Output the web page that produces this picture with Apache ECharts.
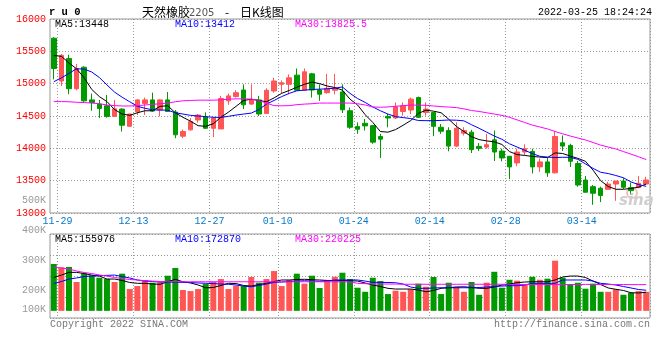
<!DOCTYPE html>
<html><head><meta charset="utf-8">
<script src="https://cdn.jsdelivr.net/npm/echarts@6/dist/echarts.min.js"></script>
<style>html,body{margin:0;padding:0;background:#fff}#c{width:660px;height:360px}</style>
</head><body><div id="c"></div><script>
const dates = ['11-29','11-30','12-01','12-02','12-03','12-06','12-07','12-08','12-09','12-10',
'12-13','12-14','12-15','12-16','12-17','12-20','12-21','12-22','12-23','12-24',
'12-27','12-28','12-29','12-30','12-31','01-04','01-05','01-06','01-07',
'01-10','01-11','01-12','01-13','01-14','01-17','01-18','01-19','01-20','01-21',
'01-24','01-25','01-26','01-27','01-28','02-07','02-08','02-09','02-10','02-11',
'02-14','02-15','02-16','02-17','02-18','02-21','02-22','02-23','02-24','02-25',
'02-28','03-01','03-02','03-03','03-04','03-07','03-08','03-09','03-10','03-11',
'03-14','03-15','03-16','03-17','03-18','03-21','03-22','03-23','03-24','03-25'];
const labeledDates = ['11-29','12-13','12-27','01-10','01-24','02-14','02-28','03-14'];

const opens = [15703,15041,15388,14922,15254,14749,14684,14658,14494,14607,14341,14566,14693,14749,14592,14749,14561,14188,14286,14439,14489,14310,14300,14734,14800,14902,14684,14749,14540,14887,14990,14990,15132,14898,15152,14902,14861,14898,14872,14581,14336,14387,14351,14183,14494,14469,14570,14592,14785,14555,14555,14326,14275,14035,14234,14250,14030,14019,14132,13958,13877,13775,13943,13953,13713,13790,13621,14086,14045,13765,13510,13407,13383,13367,13448,13494,13392,13392,13448];
const closes = [15235,15438,14922,15235,14734,14708,14616,14494,14611,14357,14531,14749,14749,14576,14749,14570,14209,14260,14413,14515,14310,14469,14770,14811,14861,14673,14749,14531,14898,15041,15014,15091,14898,15183,14902,14837,14929,14929,14596,14326,14295,14347,14096,14142,14469,14642,14658,14760,14479,14607,14341,14264,14035,14310,14275,13980,14000,14056,13943,13851,13713,13943,13995,13713,13790,13621,14183,14035,13800,13433,13321,13306,13270,13448,13494,13398,13346,13459,13510];
const highs = [15718,15458,15449,15305,15270,14847,14749,14826,14749,14620,14535,14760,14785,14861,14760,14872,14592,14290,14469,14531,14556,14480,14811,14846,14898,14989,14989,14811,14929,15091,15051,15143,15235,15235,15167,14990,15152,15152,14990,14632,14402,14454,14362,14224,14530,14709,14709,14785,14800,14709,14555,14377,14326,14402,14326,14286,14081,14224,14275,13995,13877,13995,14061,13995,13842,13851,14264,14198,14071,13805,13571,13433,13407,13484,13494,13540,13469,13571,13560];
const lows = [15066,14964,14837,14898,14719,14581,14469,14474,14494,14260,14341,14515,14515,14566,14494,14570,14157,14157,14275,14397,14300,14173,14300,14673,14785,14607,14673,14500,14540,14861,14852,14837,14898,14887,14785,14734,14846,14837,14546,14300,14224,14275,14071,13851,14326,14454,14505,14531,14469,14505,14188,14224,13954,14019,14198,13928,13958,13995,13805,13800,13525,13724,13892,13612,13637,13560,13612,13958,13713,13407,13321,13127,13168,13367,13188,13372,13280,13392,13448];

const ma5 = [15435,15423,15320,15230,15090,14910,14800,14723,14600,14530,14510,14550,14581,14581,14650,14658,14550,14480,14420,14350,14340,14380,14480,14560,14650,14740,14760,14740,14720,14780,14850,14895,14945,14990,15025,15000,14964,14940,14900,14760,14670,14520,14400,14260,14250,14290,14357,14430,14540,14590,14575,14550,14450,14340,14260,14180,14135,14115,14100,14060,13950,13903,13890,13875,13865,13857,13930,13920,13880,13845,13800,13663,13500,13410,13367,13367,13380,13400,13448];
const ma10 = [15030,15090,15160,15230,15225,15180,15095,14980,14870,14790,14720,14650,14620,14595,14592,14590,14550,14530,14510,14500,14490,14480,14478,14495,14515,14530,14545,14600,14684,14740,14800,14850,14890,14900,14910,14915,14920,14930,14949,14850,14770,14710,14640,14581,14530,14490,14475,14460,14430,14428,14428,14432,14438,14435,14425,14365,14310,14250,14190,14140,14070,14020,13970,13920,13877,13865,13857,13862,13860,13830,13760,13690,13630,13610,13580,13545,13480,13440,13412];
const ma30 = [14723,14723,14720,14712,14708,14700,14690,14670,14660,14655,14655,14660,14670,14680,14690,14700,14720,14735,14740,14745,14745,14745,14750,14760,14765,14765,14760,14740,14700,14660,14658,14660,14675,14684,14690,14700,14700,14700,14700,14700,14690,14670,14640,14635,14640,14650,14660,14668,14668,14665,14655,14645,14638,14630,14610,14585,14570,14550,14530,14510,14480,14440,14400,14360,14330,14300,14260,14225,14190,14160,14130,14090,14050,14020,13990,13950,13910,13870,13826];

// volume in thousands
const volumes = [393,365,368,242,315,298,278,267,242,312,183,208,259,236,239,295,360,175,166,183,225,244,267,183,211,208,284,236,267,334,208,259,312,228,295,192,259,286,320,267,194,160,278,250,141,169,160,181,228,202,284,141,236,202,160,242,135,236,328,194,261,253,225,286,261,270,421,278,225,236,186,228,160,160,181,135,152,166,160];
const volMa5 = [280,300,323,323,313,300,292,267,267,255,238,231,231,225,223,244,265,244,234,217,194,196,213,231,229,213,208,221,231,246,259,259,263,265,261,259,255,253,253,253,250,234,217,204,189,183,183,183,175,160,171,189,194,200,202,196,189,189,200,217,225,236,242,244,244,244,259,284,292,292,280,250,221,192,181,171,152,150,156];
const volMa10 = [229,246,267,276,288,292,295,298,300,288,276,259,250,246,242,242,239,239,238,234,231,229,225,223,217,208,202,213,225,239,242,246,250,253,250,248,250,259,259,259,259,250,239,239,238,236,225,200,189,189,192,194,194,194,194,194,196,200,204,208,211,211,217,231,231,231,231,259,259,259,259,250,231,225,217,204,192,179,173];
const volMa30 = [364,360,351,334,322,313,301,292,280,271,263,259,253,250,246,244,244,244,244,244,244,244,244,244,244,244,244,244,244,244,244,244,244,244,244,244,244,244,244,242,231,228,225,225,225,225,223,223,223,223,223,223,223,223,223,223,223,223,223,223,223,221,221,221,221,221,221,221,221,221,222,222,221,221,221,221,220,220,220];

const priceMin = 13000, priceMax = 16000, priceStep = 500;
const volLabelValues = [100000, 200000, 300000, 400000, 500000];

const UP = '#ff5555', DOWN = '#009900';
const MONO = '"Liberation Mono", "DejaVu Sans Mono", monospace';
const GRIDC = '#999';
const DOT = [1, 2];

const candleData = dates.map((d, i) => [opens[i], closes[i], lows[i], highs[i]]);
const volData = volumes.map((v, i) => ({ value: v * 1000, itemStyle: { color: closes[i] >= opens[i] ? UP : DOWN } }));
const k = a => a.map(v => v * 1000);
const isLabeled = (i, v) => labeledDates.indexOf(v) >= 0;
const splitAt = (i) => i > 0 && i <= dates.length && labeledDates.indexOf(dates[i - 1]) >= 0;

const chart = echarts.init(document.getElementById('c'), null, { renderer: 'canvas', width: 660, height: 360 });
const line = (name, data, color, xi, yi) => ({
  name, type: 'line', data, xAxisIndex: xi, yAxisIndex: yi, symbol: 'none', smooth: false,
  lineStyle: { color, width: 1 }, itemStyle: { color }, z: 4, silent: true
});
const T = (x, y, text, fill, font, align) => ({
  type: 'text', x, y, silent: true, z: 10,
  style: { text, fill, font, align: align || 'left', verticalAlign: 'middle' }
});

chart.setOption({
  animation: false,
  backgroundColor: '#fff',
  grid: [
    { left: 50, top: 19, width: 600, height: 194, show: true, borderColor: GRIDC, borderWidth: 1, outerBoundsMode: 'none' },
    { left: 50, top: 234, width: 600, height: 84, show: true, borderColor: GRIDC, borderWidth: 1, outerBoundsMode: 'none' },
    { left: 50, top: 200.7, width: 600, height: 120, show: false, outerBoundsMode: 'none' }
  ],
  xAxis: [
    { type: 'category', gridIndex: 0, data: dates, boundaryGap: true,
      axisLine: { show: false }, axisTick: { show: false },
      axisLabel: { interval: isLabeled, color: '#0a78c8', fontFamily: MONO, fontSize: 10, margin: 3, padding: [0, 0, 0, 7.6] },
      splitLine: { show: true, interval: splitAt, lineStyle: { color: GRIDC, type: DOT, width: 1 } } },
    { type: 'category', gridIndex: 1, data: dates, boundaryGap: true,
      axisLine: { show: false }, axisTick: { show: false }, axisLabel: { show: false },
      splitLine: { show: true, interval: splitAt, lineStyle: { color: GRIDC, type: DOT, width: 1 } } },
    { type: 'category', gridIndex: 2, data: dates, show: false }
  ],
  yAxis: [
    { type: 'value', gridIndex: 0, min: priceMin, max: priceMax, interval: priceStep, scale: true,
      axisLine: { show: false }, axisTick: { show: false },
      axisLabel: { color: '#ff0000', fontFamily: MONO, fontSize: 10, margin: 4, padding: [0, 0, 4, 0], formatter: v => String(v) },
      splitLine: { show: true, lineStyle: { color: GRIDC, type: DOT, width: 1 } } },
    { type: 'value', gridIndex: 1, min: -60000, max: 645000,
      axisLine: { show: false }, axisTick: { show: false }, axisLabel: { show: false }, splitLine: { show: false } },
    { type: 'value', gridIndex: 1, min: 0, max: 4, interval: 1,
      axisLine: { show: false }, axisTick: { show: false }, axisLabel: { show: false },
      splitLine: { show: true, lineStyle: { color: GRIDC, type: DOT, width: 1 } } },
    { type: 'value', gridIndex: 2, min: volLabelValues[0], max: volLabelValues[volLabelValues.length - 1], interval: 100000,
      axisLine: { show: false }, axisTick: { show: false }, splitLine: { show: false },
      axisLabel: { color: '#999', fontFamily: MONO, fontSize: 10, margin: 4,
        formatter: v => v === volLabelValues[0] ? '{up|' + (v / 1000) + 'K}' : (v / 1000) + 'K',
        rich: { up: { color: '#999', fontFamily: MONO, fontSize: 10, padding: [0, 0, 23, 0] } } } }
  ],
  series: [
    { type: 'candlestick', name: 'K', xAxisIndex: 0, yAxisIndex: 0, data: candleData, barWidth: 5, z: 3,
      itemStyle: { color: UP, color0: DOWN, borderColor: UP, borderColor0: DOWN, borderWidth: 1 } },
    line('MA5', ma5, '#000000', 0, 0),
    line('MA10', ma10, '#0000ff', 0, 0),
    line('MA30', ma30, '#ff00ff', 0, 0),
    { type: 'bar', name: 'VOL', xAxisIndex: 1, yAxisIndex: 1, data: volData, barWidth: 6, z: 3 },
    line('VMA5', k(volMa5), '#000000', 1, 1),
    line('VMA10', k(volMa10), '#0000ff', 1, 1),
    line('VMA30', k(volMa30), '#ff00ff', 1, 1)
  ],
  graphic: [
    T(49, 12, 'r u 0', '#000', 'bold 10.5px ' + MONO),
    T(142, 12, '天然橡胶', '#000', '12px "Noto Sans CJK SC"'),
    T(189, 13, '2205', '#555', '10px "DejaVu Sans"'),
    T(225, 12, '-', '#000', '12px "Noto Sans CJK SC"'),
    T(240, 12, '日K线图', '#000', '12px "Noto Sans CJK SC"'),
    T(652, 12, '2022-03-25 18:24:24', '#000', '10px ' + MONO, 'right'),
    T(55, 24, 'MA5:13448', '#000', '10px ' + MONO),
    T(175, 24, 'MA10:13412', '#0000ff', '10px ' + MONO),
    T(295, 24, 'MA30:13825.5', '#ff00ff', '10px ' + MONO),
    T(55, 239, 'MA5:155976', '#000', '10px ' + MONO),
    T(175, 239, 'MA10:172870', '#0000ff', '10px ' + MONO),
    T(295, 239, 'MA30:220225', '#ff00ff', '10px ' + MONO),
    T(50, 324, 'Copyright 2022 SINA.COM', '#777', '10px ' + MONO),
    T(650, 324, 'http://finance.sina.com.cn', '#777', '10px ' + MONO, 'right'),
    { type: 'circle', silent: true, z: 1, shape: { cx: 632, cy: 193, r: 5 }, style: { fill: 'none', stroke: '#f2c0c0', lineWidth: 2 } },
    T(619, 201, 'sina', '#cfcfcf', 'italic bold 15px "DejaVu Sans"')
  ]
});
</script></body></html>
